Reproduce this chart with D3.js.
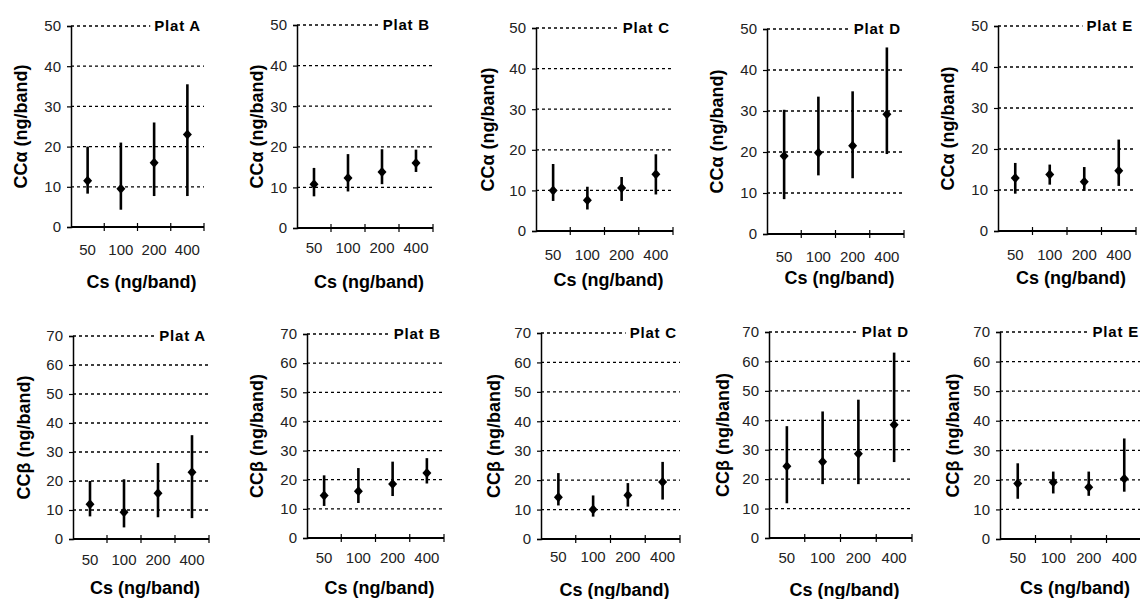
<!DOCTYPE html>
<html>
<head>
<meta charset="utf-8">
<script src="https://cdn.jsdelivr.net/npm/d3@7"></script>
<style>
  html, body { margin: 0; padding: 0; background: #fff; }
  svg { display: block; }
  text { font-family: "Liberation Sans", Arial, sans-serif; }
</style>
</head>
<body>
<svg id="chart" width="1140" height="599"></svg>
<script>
// Spiked standard concentration (ng/band) on the x axis
const categories = ["50", "100", "200", "400"];
const plates = ["Plat A", "Plat B", "Plat C", "Plat D", "Plat E"];

// CCα per plate: mean, lower and upper ends of the range
const alphaMean = [
  [11.5, 9.5, 16, 23],
  [10.8, 12.3, 13.8, 16],
  [10, 7.6, 10.6, 14],
  [19, 19.8, 21.5, 29.2],
  [12.9, 13.8, 12, 14.7]
];
const alphaLow = [
  [8.3, 4.3, 7.7, 7.7],
  [7.8, 9, 10.8, 13.8],
  [7.4, 5.3, 7.4, 9],
  [8.5, 14.3, 13.6, 19.5],
  [9.1, 11.3, 9.8, 11]
];
const alphaHigh = [
  [20, 21, 26, 35.5],
  [14.8, 18.2, 19.4, 19.3],
  [16.5, 10.9, 13.3, 18.9],
  [30.3, 33.5, 34.8, 45.5],
  [16.6, 16.2, 15.6, 22.3]
];

// CCβ per plate: mean, lower and upper ends of the range
const betaMean = [
  [12, 9.2, 15.8, 23],
  [14.6, 16, 18.5, 22.3],
  [14.2, 10, 14.9, 19.4],
  [24.4, 25.9, 28.6, 38.5],
  [18.8, 19.2, 17.5, 20.4]
];
const betaLow = [
  [7.8, 4, 7.5, 7.2],
  [11, 12, 14.4, 18.7],
  [11.4, 7.6, 11, 13.4],
  [11.8, 18.3, 18.3, 25.8],
  [13.6, 15.4, 14.6, 16]
];
const betaHigh = [
  [20, 20.6, 26.2, 35.8],
  [21.5, 24, 26.2, 27.4],
  [22.4, 14.8, 19, 26.2],
  [38, 43, 47, 63],
  [25.6, 22.8, 22.8, 34]
];

const alphaTicks = [0, 10, 20, 30, 40, 50];
const betaTicks = [0, 10, 20, 30, 40, 50, 60, 70];

// Panel frames (plot area in page pixels) and label placement
const topFrames = [
  { l: 71, t: 26, r: 204, b: 227, yt: 50, tickY: 250, titleY: 282 },
  { l: 297, t: 25, r: 433, b: 228, yt: 40, tickY: 248, titleY: 282 },
  { l: 536, t: 28, r: 673, b: 231, yt: 48, tickY: 255, titleY: 280 },
  { l: 767, t: 29, r: 904, b: 234, yt: 50, tickY: 257, titleY: 278 },
  { l: 998, t: 26, r: 1136, b: 231, yt: 50, tickY: 255, titleY: 278 }
];
const bottomFrames = [
  { l: 73, t: 336, r: 209, b: 539, yt: 49, tickY: 560, titleY: 588 },
  { l: 307, t: 334, r: 444, b: 538, yt: 50, tickY: 558, titleY: 588 },
  { l: 541, t: 333, r: 680, b: 539, yt: 47, tickY: 557, titleY: 590 },
  { l: 769, t: 332, r: 912, b: 538, yt: 46, tickY: 558, titleY: 590 },
  { l: 1000, t: 332, r: 1142, b: 539, yt: 47, tickY: 558, titleY: 588 }
];

const svg = d3.select("#chart");

function drawPanel(frame, plate, means, lows, highs, ticks, yLabel) {
  const g = svg.append("g");
  const yMax = ticks[ticks.length - 1];
  const x = d3.scaleBand().domain(categories).range([frame.l, frame.r]);
  const y = d3.scaleLinear().domain([0, yMax]).range([frame.b, frame.t]);

  // dashed horizontal gridlines
  g.selectAll("line.grid")
    .data(ticks.filter(d => d > 0))
    .enter().append("line")
    .attr("x1", frame.l).attr("x2", frame.r)
    .attr("y1", d => y(d)).attr("y2", d => y(d))
    .attr("stroke", "#000").attr("stroke-width", 1.3)
    .attr("stroke-dasharray", "3,3");

  // plate label with a white backing that interrupts the top gridline
  const label = g.append("text")
    .attr("x", frame.r - 3).attr("y", y(yMax) + 5)
    .attr("text-anchor", "end")
    .attr("font-size", 15).attr("font-weight", "bold")
    .attr("letter-spacing", 0.8)
    .text(plate);
  const bb = label.node().getBBox();
  g.insert("rect", "text")
    .attr("x", bb.x - 4).attr("y", bb.y)
    .attr("width", bb.width + 8).attr("height", bb.height)
    .attr("fill", "#fff");

  // y axis
  const yAxis = d3.axisLeft(y).tickValues(ticks).tickSize(4).tickPadding(6);
  const ya = g.append("g").attr("transform", `translate(${frame.l},0)`).call(yAxis);
  ya.select(".domain").attr("stroke", "#000").attr("stroke-width", 1.5);
  ya.selectAll(".tick line").attr("stroke", "#000").attr("stroke-width", 1.2);
  ya.selectAll(".tick text")
    .attr("font-size", 15).attr("fill", "#222")
    .attr("font-family", "'Liberation Sans', Arial, sans-serif");

  // x axis: line with crossing ticks at category boundaries
  g.append("line")
    .attr("x1", frame.l).attr("x2", frame.r)
    .attr("y1", frame.b).attr("y2", frame.b)
    .attr("stroke", "#000").attr("stroke-width", 2);
  const bounds = categories.map(c => x(c)).concat([x(categories[categories.length - 1]) + x.bandwidth()]);
  g.selectAll("line.xt")
    .data(bounds.slice(1))
    .enter().append("line")
    .attr("x1", d => d).attr("x2", d => d)
    .attr("y1", frame.b - 4).attr("y2", frame.b + 4)
    .attr("stroke", "#000").attr("stroke-width", 1.2);
  g.selectAll("text.xl")
    .data(categories)
    .enter().append("text")
    .attr("x", d => x(d) + x.bandwidth() / 2)
    .attr("y", frame.tickY + 5)
    .attr("text-anchor", "middle")
    .attr("font-size", 15).attr("fill", "#222")
    .text(d => d);

  // range bars
  g.selectAll("line.bar")
    .data(categories)
    .enter().append("line")
    .attr("x1", d => x(d) + x.bandwidth() / 2)
    .attr("x2", d => x(d) + x.bandwidth() / 2)
    .attr("y1", (d, i) => y(lows[i]))
    .attr("y2", (d, i) => y(highs[i]))
    .attr("stroke", "#000").attr("stroke-width", 2.6);

  // mean markers (diamonds)
  g.selectAll("path.mean")
    .data(categories)
    .enter().append("path")
    .attr("transform", (d, i) => `translate(${x(d) + x.bandwidth() / 2},${y(means[i])})`)
    .attr("d", "M0,-5L4.5,0L0,5L-4.5,0Z")
    .attr("fill", "#000");

  // axis titles
  g.append("text")
    .attr("x", (frame.l + frame.r) / 2 + 4).attr("y", frame.titleY + 6)
    .attr("text-anchor", "middle")
    .attr("font-size", 18).attr("font-weight", "bold")
    .text("Cs (ng/band)");
  const cy = (frame.t + frame.b) / 2;
  const cx = frame.l - frame.yt;
  g.append("text")
    .attr("transform", `translate(${cx + 6},${cy}) rotate(-90)`)
    .attr("text-anchor", "middle")
    .attr("font-size", 18).attr("font-weight", "bold")
    .text(yLabel);
}

plates.forEach((p, i) => {
  drawPanel(topFrames[i], p, alphaMean[i], alphaLow[i], alphaHigh[i], alphaTicks, "CCα (ng/band)");
  drawPanel(bottomFrames[i], p, betaMean[i], betaLow[i], betaHigh[i], betaTicks, "CCβ (ng/band)");
});
</script>
</body>
</html>
